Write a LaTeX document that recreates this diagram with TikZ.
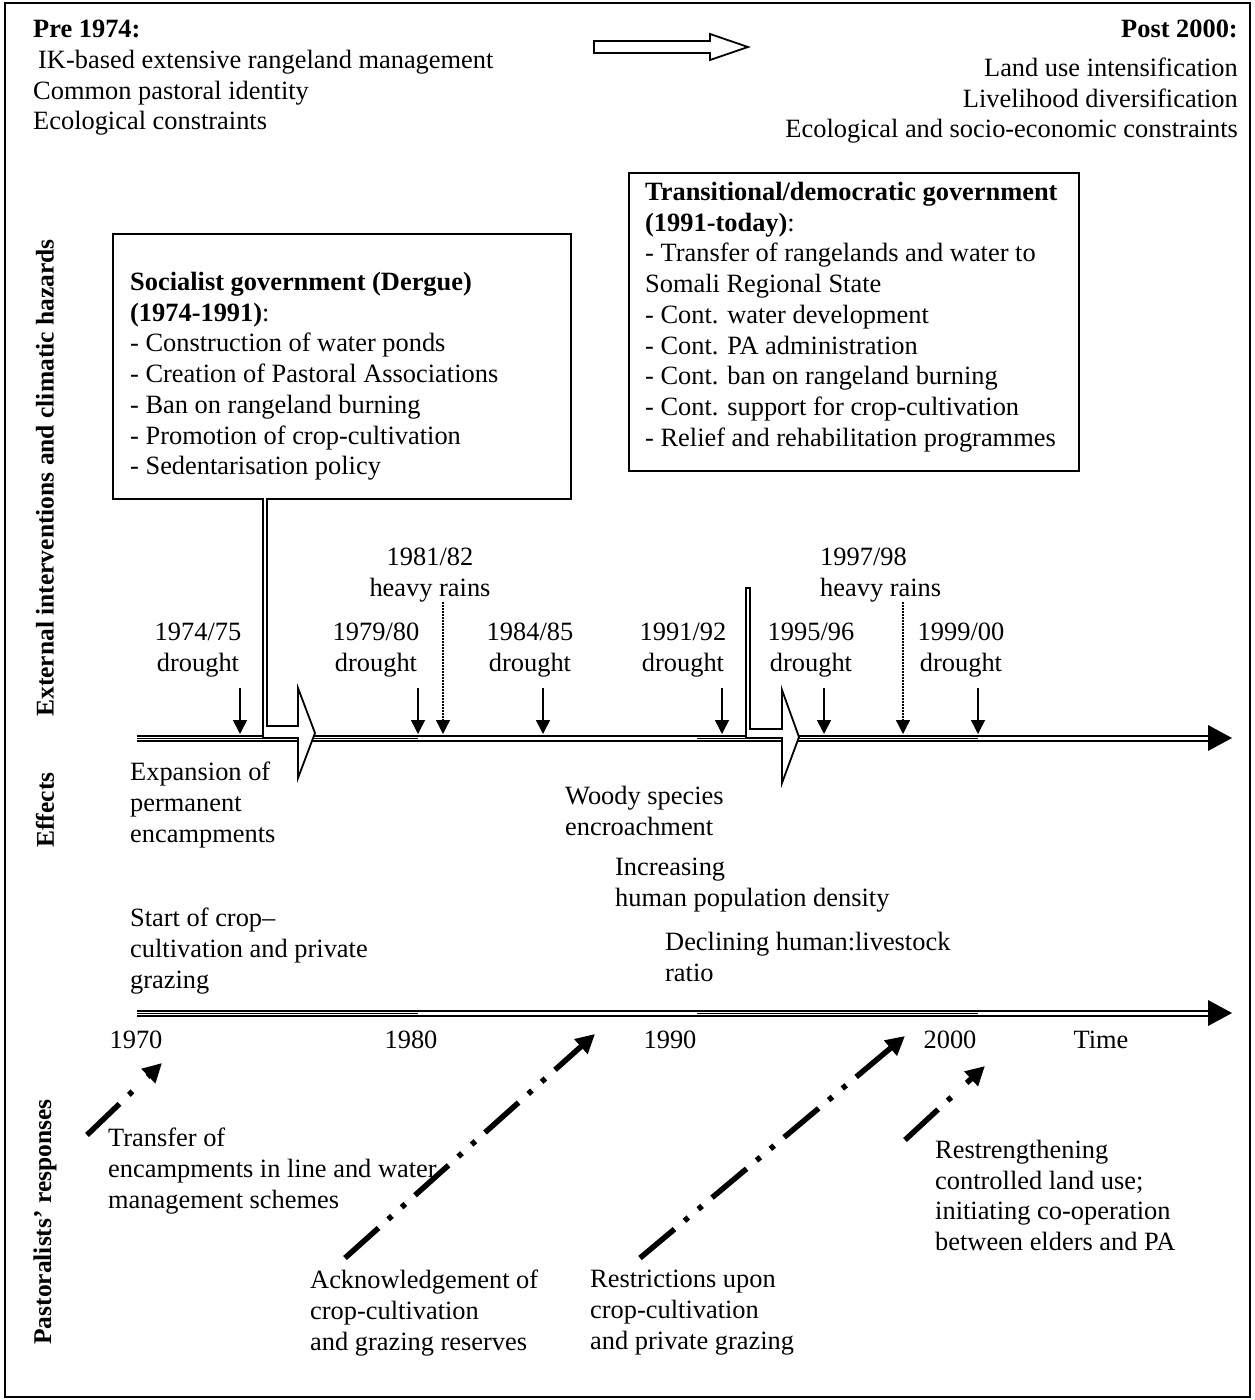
\documentclass[tikz,border=0pt]{standalone}
\usepackage{fontspec}
\setmainfont{Liberation Serif}
\usetikzlibrary{arrows.meta}
\newcommand{\dgsize}{\fontsize{26.4}{30.7}\selectfont}
\begin{document}
\begin{tikzpicture}[x=1pt,y=-1pt,
  every node/.style={inner sep=0pt,font=\dgsize},
  txt/.style={anchor=north west,align=left},
  lbl/.style={anchor=north,align=center},
  sidelbl/.style={rotate=90,font=\fontsize{25.5}{30}\selectfont\bfseries},
  framebox/.style={draw,line width=1.5pt,anchor=north west},
  axisouter/.style={line width=7pt},
  axisinner/.style={line width=3pt,white},
  axisfill/.style={line width=1pt},
  hollow/.style={draw,line width=1.8pt,fill=white,line join=miter},
  drought/.style={line width=1.6pt,-{Triangle[width=14pt,length=14pt]}},
  rains/.style={line width=1.3pt,dash pattern=on 1.5pt off 1.5pt,-{Triangle[width=14pt,length=14pt]}},
  respshort/.style={line width=5.5pt,dash pattern=on 45pt off 13pt on 5pt off 21pt,-{Triangle[width=19pt,length=19pt]}},
  resplong/.style={line width=5.5pt,dash pattern=on 45pt off 13pt on 5pt off 13pt on 5pt off 13pt,-{Triangle[width=19pt,length=19pt]}}
]
\useasboundingbox (0,0) rectangle (1254,1400);
\draw[line width=1.5pt] (5,3) rectangle (1250,1397);

% top texts
\node[txt] (pre) at (33,20) {\textbf{Pre 1974:}\\\hspace*{5pt}IK-based extensive rangeland management\\Common pastoral identity\\Ecological constraints};
\node[anchor=north east,align=right] (post) at (1238,20) {\textbf{Post 2000:}\\[8pt]Land use intensification\\Livelihood diversification\\Ecological and socio-economic constraints};
\coordinate (ha) at (594,47);
\draw[hollow] (ha) ++(0,-6) -- (710,41) -- (710,34) -- (748,47) -- (710,60) -- (710,53) -- (594,53) -- cycle;

% side labels
\node[sidelbl] (s1) at (45,478) {External interventions and climatic hazards};
\node[sidelbl] (s2) at (45,810) {Effects};
\node[sidelbl] (s3) at (45,1222) {Pastoralists’ responses};

% boxes
\node[framebox,minimum width=458pt,minimum height=265pt] (box1) at (112,233) {};
\node[txt] (soc) at (130,272) {\textbf{Socialist government (Dergue)}\\\textbf{(1974-1991)}:\\- Construction of water ponds\\- Creation of Pastoral Associations\\- Ban on rangeland burning\\- Promotion of crop-cultivation\\- Sedentarisation policy};
\node[framebox,minimum width=450pt,minimum height=298pt] (box2) at (628,172) {};
\node[txt] (dem) at (645,182) {\textbf{Transitional/democratic government}\\\textbf{(1991-today)}:\\- Transfer of rangelands and water to\\Somali Regional State\\- Cont. water development\\- Cont. PA administration\\- Cont. ban on rangeland burning\\- Cont. support for crop-cultivation\\- Relief and rehabilitation programmes};

% upper axis
\coordinate (ua0) at (137,738);
\coordinate (ua1) at (1212,738);
\coordinate (uf1) at (418,738);
\coordinate (uf2) at (697,738);
\coordinate (uf3) at (978,738);
\draw[axisouter] (ua0) -- (ua1);
\draw[axisinner] (ua0) -- (ua1);
\draw[axisfill] (ua0) -- (uf1);
\draw[axisfill] (uf2) -- (uf3);
\fill (1208,725) -- (1232,738) -- (1208,751) -- cycle;

% hazard labels
\node[lbl] (d1) at (198,623) {1974/75\\drought};
\node[lbl] (d2) at (376,623) {1979/80\\drought};
\node[lbl] (r1) at (430,548) {1981/82\\heavy rains};
\node[lbl] (d3) at (530,623) {1984/85\\drought};
\node[lbl] (d4) at (683,623) {1991/92\\drought};
\node[lbl] (d5) at (811,623) {1995/96\\drought};
\node[txt] (r2) at (820,548) {1997/98\\heavy rains};
\node[lbl] (d6) at (961,623) {1999/00\\drought};

\foreach \x/\n in {240/a,418/b,543/c,722/d,824/e,978/f}{
  \coordinate (dt\n) at (\x,688);
  \coordinate (db\n) at (\x,734);
  \draw[drought] (dt\n) -- (db\n);
}
\foreach \x/\n in {443/a,903/b}{
  \coordinate (rt\n) at (\x,602);
  \coordinate (rb\n) at (\x,734);
  \draw[rains] (rt\n) -- (rb\n);
}

% bent hollow arrows
\draw[hollow] (263,498) -- (263,738) -- (298,738) -- (298,778) -- (315,733) -- (298,688) -- (298,726) -- (267,726) -- (267,498);
\draw[hollow] (746,588) -- (746,738) -- (782,738) -- (782,783) -- (799,737) -- (782,690) -- (782,729) -- (750,729) -- (750,588) -- cycle;

% effects
\node[txt] (e1) at (130,762) {Expansion of\\permanent\\encampments};
\node[txt] (e2) at (565,786) {Woody species\\encroachment};
\node[txt] (e3) at (615,858) {Increasing\\human population density};
\node[txt] (e4) at (130,908) {Start of crop–\\cultivation and private\\grazing};
\node[txt] (e5) at (665,932) {Declining human:livestock\\ratio};

% lower axis
\coordinate (la0) at (137,1013);
\coordinate (la1) at (1212,1013);
\coordinate (lf1) at (418,1013);
\coordinate (lf2) at (697,1013);
\coordinate (lf3) at (978,1013);
\draw[axisouter] (la0) -- (la1);
\draw[axisinner] (la0) -- (la1);
\draw[axisfill] (la0) -- (lf1);
\draw[axisfill] (lf2) -- (lf3);
\fill (1208,1000) -- (1232,1013) -- (1208,1026) -- cycle;

\node (y1) at (136,1040) {1970};
\node (y2) at (411,1040) {1980};
\node (y3) at (670,1040) {1990};
\node (y4) at (950,1040) {2000};
\node (y5) at (1101,1040) {Time};

% responses
\node[txt] (p1) at (108,1128) {Transfer of\\encampments in line and water\\management schemes};
\node[txt] (p2) at (310,1270) {Acknowledgement of\\crop-cultivation\\and grazing reserves};
\node[txt] (p3) at (590,1270) {Restrictions upon\\crop-cultivation\\and private grazing};
\node[txt] (p4) at (935,1140) {Restrengthening\\controlled land use;\\initiating co-operation\\between elders and PA};

\coordinate (q1s) at (87,1135);  \coordinate (q1e) at (162,1063);
\coordinate (q2s) at (345,1258); \coordinate (q2e) at (595,1034);
\coordinate (q3s) at (640,1258); \coordinate (q3e) at (905,1036);
\coordinate (q4s) at (905,1140); \coordinate (q4e) at (985,1066);
\draw[respshort] (q1s) -- (q1e);
\draw[resplong] (q2s) -- (q2e);
\draw[resplong] (q3s) -- (q3e);
\draw[respshort] (q4s) -- (q4e);
\end{tikzpicture}
\end{document}
